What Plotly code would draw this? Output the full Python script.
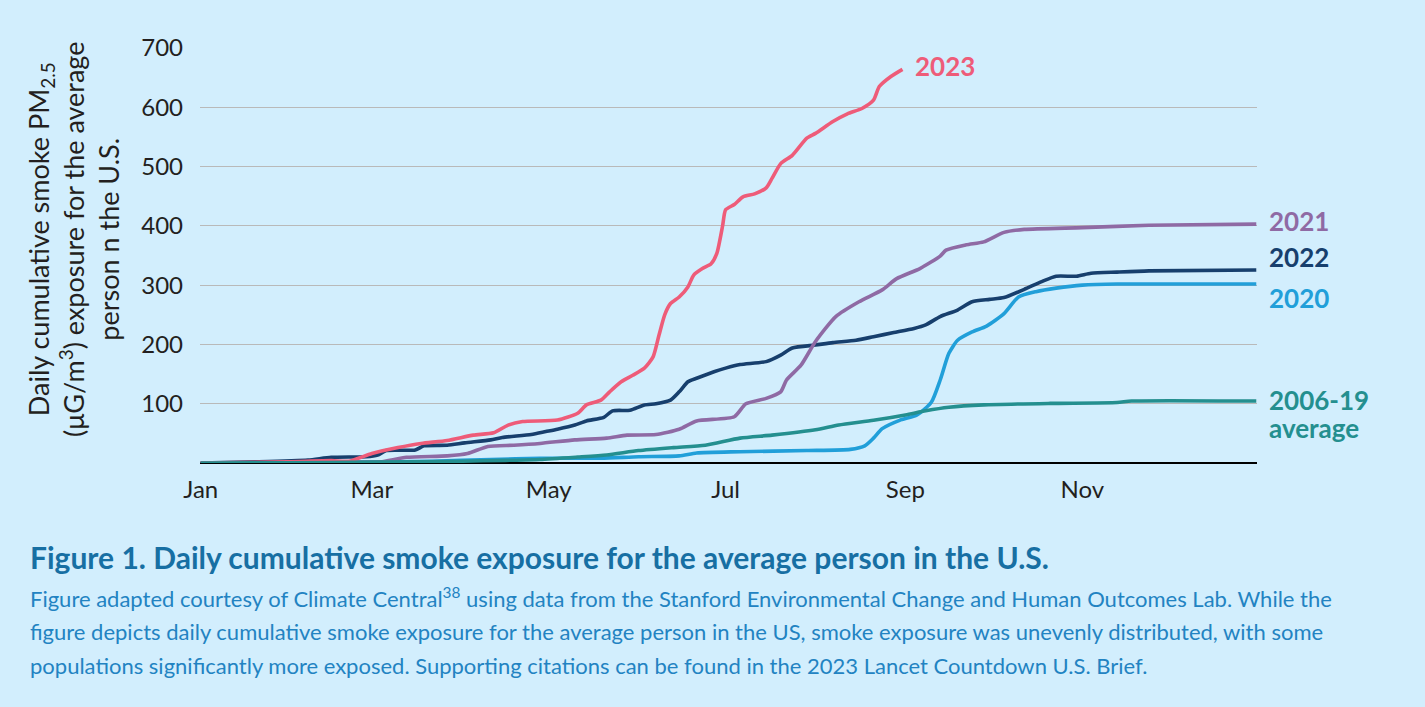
import datetime as dt
import plotly.graph_objects as go

# ---- data (day-of-year offsets from Jan 1, cumulative exposure values) ----
avg_days = [0, 30, 60, 90, 105, 117, 130, 140, 151, 163, 174, 186, 197, 212, 220, 232, 243, 250, 258, 270, 293, 316, 321, 364]
avg_vals = [0, 0.5, 1.5, 3, 4.5, 6, 10, 13.5, 21, 26, 30, 42, 47, 56, 64, 72, 81, 88, 94, 98, 100.5, 102, 104.5, 104.5]

y2020_days = [0, 40, 80, 100, 117, 138, 151, 165, 171, 186, 209, 224, 229, 232, 235, 241, 247, 252, 255, 258, 261, 266, 271, 277, 282, 288, 295, 304, 316, 364]
y2020_vals = [0, 0.5, 3, 6, 8, 8, 10.5, 12, 17, 19, 21, 23, 29, 42, 58, 72, 81, 103, 140, 185, 207, 221, 231, 252, 280, 289, 295, 300, 302, 302]

y2021_days = [0, 30, 55, 62, 71, 85, 92, 99, 108, 117, 129, 140, 147, 157, 165, 171, 184, 188, 195, 200, 202, 207, 212, 219, 227, 235, 240, 248, 255, 257, 264, 270, 277, 284, 304, 327, 364]
y2021_vals = [0, 0.5, 1.5, 2, 9.6, 12, 16, 28, 30, 33, 39, 42, 47, 48, 57, 71, 78, 100, 109, 120, 140, 165, 205, 247, 272, 292, 311, 328, 349, 359, 368, 373, 389, 394, 397, 401, 403]

y2022_days = [0, 20, 37, 45, 57, 61, 64, 74, 77, 85, 91, 100, 104, 114, 119, 123, 129, 133, 139, 142, 148, 153, 157, 162, 165, 168, 171, 177, 181, 186, 195, 200, 204, 212, 218, 226, 232, 239, 246, 250, 255, 261, 266, 272, 277, 284, 290, 295, 302, 307, 316, 327, 364]
y2022_vals = [0, 2, 5, 9.5, 10.6, 13.5, 21, 22, 29, 30, 34, 39, 43, 48, 53, 57, 64, 71, 77, 88, 89, 98, 100, 106, 120, 137, 143, 154, 160, 166, 171, 182, 194, 199, 203, 207, 213, 220, 227, 233, 247, 258, 272, 276, 279, 293, 306, 315, 315, 320, 322, 324, 325.5]

y2023_days = [0, 30, 45, 51, 59, 68, 76, 85, 94, 101, 106, 111, 123, 130, 133, 138, 141, 145, 149, 153, 156, 158, 160, 162, 165, 168, 170, 173, 176, 178, 180, 181, 184, 187, 191, 195, 197, 200, 204, 209, 212, 218, 223, 228, 232, 234, 238, 242]
y2023_vals = [0, 2, 4, 3, 16, 26, 33, 38, 47, 51, 64, 70, 72.5, 84, 98, 106, 120, 137, 148, 160, 179, 215, 250, 269, 280, 297, 317, 328, 336, 354, 401, 427, 436, 449, 454, 464, 480, 505, 519, 548, 556, 576, 589, 598, 612, 635, 652, 664]

month_ticks = ["2023-01-01", "2023-03-01", "2023-05-01", "2023-07-01", "2023-09-01", "2023-11-01"]
month_labels = ["Jan", "Mar", "May", "Jul", "Sep", "Nov"]
y_ticks = [100, 200, 300, 400, 500, 600, 700]

BASE = dt.date(2023, 1, 1)


def to_dates(days):
    return [BASE + dt.timedelta(days=d) for d in days]


series = [
    ("2020", y2020_days, y2020_vals, "#219FD9", ["2020"], -14),
    ("2022", y2022_days, y2022_vals, "#173F6D", ["2022"], 13),
    ("2021", y2021_days, y2021_vals, "#8F6AA4", ["2021"], 3),
    ("2023", y2023_days, y2023_vals, "#EE5C79", ["2023"], 3),
    ("2006-19 average", avg_days, avg_vals, "#248F8F", ["2006-19", "average"], 1),
]

FONT = "Lato, 'Open Sans', sans-serif"
BG = "#D2EEFD"

fig = go.Figure()
for name, days, vals, color, label, _ in series:
    fig.add_trace(go.Scatter(
        x=to_dates(days), y=vals, mode="lines", name=name,
        line=dict(color=color, width=3.6, shape="spline", smoothing=0.6),
        showlegend=False, hoverinfo="skip",
    ))

# series labels at the end of each line
for name, days, vals, color, label, yshift in series:
    for j, part in enumerate(label):
        fig.add_annotation(
            x=to_dates([days[-1]])[0], y=vals[-1], xref="x", yref="y",
            text=f"<b>{part}</b>", showarrow=False,
            xanchor="left", yanchor="middle",
            xshift=11, yshift=yshift - 28 * j,
            font=dict(family=FONT, size=26, color=color),
        )

# y-axis title (rotated, three lines)
fig.add_annotation(
    x=(74 - 200) / 1057, y=(463 - 240) / 415, xref="paper", yref="paper",
    text="Daily cumulative smoke PM<sub>2.5</sub><br>(μG/m<sup>3</sup>) exposure for the average<br>person n the U.S.",
    textangle=-90, showarrow=False, xanchor="center", yanchor="middle",
    font=dict(family=FONT, size=27, color="#231F20"),
)

# caption
fig.add_annotation(
    x=(28 - 200) / 1057, y=(463 - 557) / 415, xref="paper", yref="paper",
    text="<b>Figure 1. Daily cumulative smoke exposure for the average person in the U.S.</b>",
    showarrow=False, xanchor="left", yanchor="middle",
    font=dict(family=FONT, size=30, color="#176FA3"),
)
caption_lines = [
    "Figure adapted courtesy of Climate Central<sup>38</sup> using data from the Stanford Environmental Change and Human Outcomes Lab. While the",
    "figure depicts daily cumulative smoke exposure for the average person in the US, smoke exposure was unevenly distributed, with some",
    "populations significantly more exposed. Supporting citations can be found in the 2023 Lancet Countdown U.S. Brief.",
]
for i, line in enumerate(caption_lines):
    fig.add_annotation(
        x=(28 - 200) / 1057, y=(463 - (597 + 34 * i)) / 415, xref="paper", yref="paper",
        text=line, showarrow=False, xanchor="left", yanchor="middle",
        font=dict(family=FONT, size=22, color="#2283C2"),
    )

fig.update_layout(
    width=1425, height=707, autosize=False,
    margin=dict(l=200, r=168, t=48, b=244),
    paper_bgcolor=BG, plot_bgcolor=BG,
    font=dict(family=FONT, color="#231F20"),
    xaxis=dict(
        range=["2022-12-31 18:00", "2023-12-31 06:00"],
        tickvals=month_ticks, ticktext=month_labels,
        showgrid=False, zeroline=False, showline=False,
        ticks="", ticklabelstandoff=10,
        tickfont=dict(family=FONT, size=24, color="#231F20"),
    ),
    yaxis=dict(
        range=[0, 700], tickvals=y_ticks,
        showgrid=True, gridcolor="#B9B9B9", gridwidth=1,
        zeroline=True, zerolinecolor="#000000", zerolinewidth=1.5,
        showline=False, ticks="", ticklabelstandoff=16,
        tickfont=dict(family=FONT, size=24, color="#231F20"),
    ),
)

fig.write_html(
    "out.html",
    config={"displayModeBar": False},
    post_script="document.body.style.margin='0';document.body.style.overflow='hidden';document.body.style.background='" + BG + "';",
)
